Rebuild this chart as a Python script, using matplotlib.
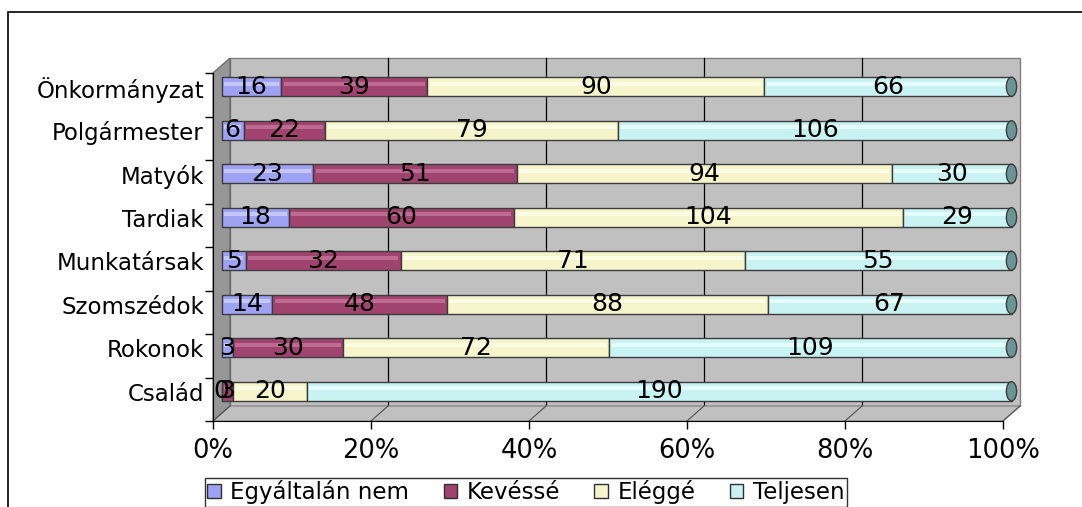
import numpy as np
import matplotlib
matplotlib.use('Agg')
import matplotlib.pyplot as plt
from matplotlib.patches import Rectangle, Polygon, Ellipse
from matplotlib.transforms import ScaledTranslation, IdentityTransform

plt.rcParams['font.family'] = ['DejaVu Sans']

# adatok (alulrol felfele)
kategoriak = ['Család', 'Rokonok', 'Szomszédok', 'Munkatársak',
              'Tardiak', 'Matyók', 'Polgármester', 'Önkormányzat']
egyaltalan = [0, 3, 14, 5, 18, 23, 6, 16]
kevesse = [3, 30, 48, 32, 60, 51, 22, 39]
eleggé = [20, 72, 88, 71, 104, 94, 79, 90]
teljesen = [190, 109, 67, 55, 29, 30, 106, 66]
sorozat_nevek = ['Egyáltalán nem', 'Kevéssé', 'Eléggé', 'Teljesen']
szinek = ['#9EA2F2', '#A0436F', '#F5F4CB', '#C9F3F3']
fenyek = ['#C4C7FA', '#BF6A92', '#FDFCE4', '#E4FDFD']
tick_szazalek = [0, 20, 40, 60, 80, 100]

W, H = 1082, 507
fig = plt.figure(figsize=(W / 100, H / 100), dpi=100)
fig.patch.set_facecolor('white')

# kulso keret
fig.patches.append(Rectangle((8 / W, -0.1), 1.1, (H - 12) / H + 0.1,
                             transform=fig.transFigure, fill=False,
                             edgecolor='black', lw=1.2))

x0, x1 = 213, 1003
yb, yt = 421, 73
ax = fig.add_axes([x0 / W, (H - yb) / H, (x1 - x0) / W, (yb - yt) / H])
ax.patch.set_alpha(0)
ax.set_xlim(0, 100)
ax.set_ylim(-0.5, len(kategoriak) - 0.5)

dxb, dyb = 17, 15  # hatso fal eltolasa
dxm, dym = 8.5, 8  # oszlopok eltolasa
off_back = ScaledTranslation(dxb / 100, dyb / 100, fig.dpi_scale_trans)
off_bar = ScaledTranslation(dxm / 100, dym / 100, fig.dpi_scale_trans)

# hatso fal
ax.add_patch(Rectangle((0, 0), 1, 1, transform=ax.transAxes + off_back,
                       facecolor='#C0C0C0', edgecolor='#808080', lw=1,
                       zorder=0, clip_on=False))
for t in tick_szazalek[1:-1]:
    ax.plot([t, t], [0, 1], transform=ax.get_xaxis_transform() + off_back,
            color='black', lw=0.9, zorder=0.5, clip_on=False)

# oldalfal es padlo
p = ax.transAxes.transform([(0, 0), (0, 1), (1, 0)])
d = np.array([dxb, dyb])
ax.add_patch(Polygon([p[0], p[1], p[1] + d, p[0] + d], closed=True,
                     transform=IdentityTransform(), facecolor='#969696',
                     edgecolor='#606060', lw=0.8, zorder=0.6, clip_on=False))
ax.add_patch(Polygon([p[0], p[2], p[2] + d, p[0] + d], closed=True,
                     transform=IdentityTransform(), facecolor='#C0C0C0',
                     edgecolor='#808080', lw=0.8, zorder=0.6, clip_on=False))
for t in tick_szazalek:
    a = ax.transData.transform((t, -0.5))
    ax.plot([a[0], a[0] + dxb], [a[1], a[1] + dyb],
            transform=IdentityTransform(), color='#505050', lw=0.8,
            zorder=0.7, clip_on=False)

# oszlopok (100%-os halmozott)
adat = np.array([egyaltalan, kevesse, eleggé, teljesen], dtype=float)
osszeg = adat.sum(axis=0)
szazalek = adat / osszeg * 100
y = np.arange(len(kategoriak))
bh = 0.44
bal = np.zeros(len(kategoriak))
tb = ax.transData + off_bar
for i in range(4):
    ax.barh(y, szazalek[i], left=bal, height=bh, color=szinek[i],
            edgecolor='#3C3C3C', lw=1, transform=tb, zorder=2, clip_on=False)
    ax.barh(y + 0.07, np.maximum(szazalek[i] - 0.6, 0), left=bal + 0.3,
            height=0.1, color=fenyek[i], lw=0, transform=tb, zorder=2.1,
            clip_on=False)
    for j in range(len(kategoriak)):
        ax.text(bal[j] + szazalek[i][j] / 2, y[j], str(int(adat[i][j])),
                ha='center', va='center', fontsize=18, color='black',
                transform=tb, zorder=4, clip_on=False)
    bal = bal + szazalek[i]
for j in range(len(kategoriak)):
    ax.add_patch(Ellipse((100, y[j]), 1.3, bh, facecolor='#6B9595',
                         edgecolor='#3C3C3C', lw=1, transform=tb, zorder=3,
                         clip_on=False))

# tengelyek
for s in ['top', 'right']:
    ax.spines[s].set_visible(False)
ax.spines['left'].set_color('black')
ax.spines['bottom'].set_color('black')
ax.spines['left'].set_zorder(1)
ax.spines['bottom'].set_zorder(1)
ax.set_xticks(tick_szazalek)
ax.set_xticklabels([f'{t}%' for t in tick_szazalek], fontsize=18.5)
ax.tick_params(axis='x', length=6, width=1, pad=6, direction='out')
ax.set_yticks(np.arange(-0.5, len(kategoriak), 1))
ax.set_yticklabels([])
ax.tick_params(axis='y', length=6, width=1, direction='out')
for j, k in enumerate(kategoriak):
    ax.text(0, y[j], k, ha='right', va='center', fontsize=16.5,
            transform=ax.get_yaxis_transform() +
            ScaledTranslation(-9 / 100, 5 / 100, fig.dpi_scale_trans))

# jelmagyarazat
kezelok = [Rectangle((0, 0), 1, 1, facecolor=c, edgecolor='#303030', lw=1)
           for c in szinek]
leg = fig.legend(kezelok, sorozat_nevek, ncol=4, loc='upper left',
                 bbox_to_anchor=(205 / W, (H - 478) / H), fontsize=16.5,
                 frameon=True, fancybox=False, edgecolor='black',
                 handlelength=0.6, handleheight=0.6, handletextpad=0.4,
                 columnspacing=1.5, borderpad=0.1, borderaxespad=0)
leg.get_frame().set_linewidth(1)

fig.savefig('out.png', dpi=100)
